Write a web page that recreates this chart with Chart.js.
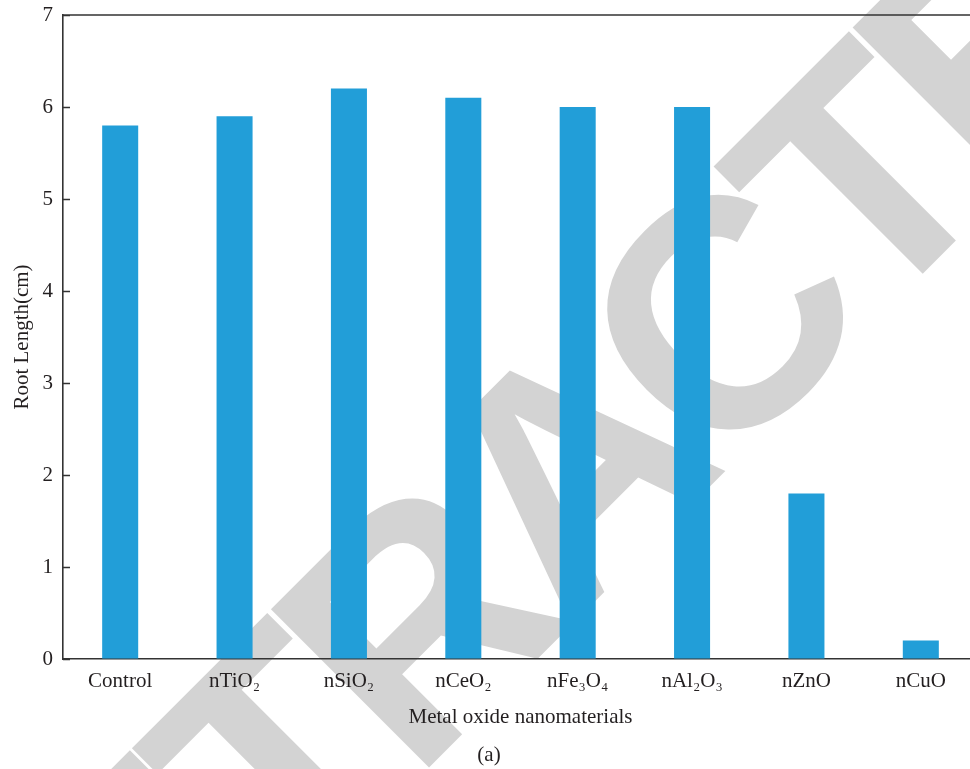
<!DOCTYPE html>
<html>
<head>
<meta charset="utf-8">
<script src="https://cdn.jsdelivr.net/npm/chart.js@4.4.1/dist/chart.umd.min.js"></script>
<style>
  html, body { margin: 0; padding: 0; overflow: hidden; background: #fff; }
  #wrap { width: 1000px; height: 769px; }
</style>
</head>
<body>
<div id="wrap"><canvas id="rootChart" width="1000" height="769"></canvas></div>
<script>
const materials = ["Control", "nTiO₂", "nSiO₂", "nCeO₂", "nFe₃O₄", "nAl₂O₃", "nZnO", "nCuO"];
const rootLength = [5.8, 5.9, 6.2, 6.1, 6.0, 6.0, 1.8, 0.2];
const yTicks = [0, 1, 2, 3, 4, 5, 6, 7];

const serif = "'Liberation Serif', 'Times New Roman', serif";
const inkColor = "#231f20";
const axisColor = "#333";

// large grey stamp, painted first so bars and axes sit on top of it
const stampPlugin = {
  id: "stamp",
  beforeDraw(chart) {
    const ctx = chart.ctx;
    ctx.save();
    ctx.fillStyle = "#fff";
    ctx.fillRect(0, 0, chart.width, chart.height);
    ctx.rotate(-Math.PI / 4);
    ctx.fillStyle = "#d3d3d3";
    ctx.font = "bold 325px 'Liberation Sans', Arial, sans-serif";
    ctx.textBaseline = "alphabetic";
    let x = -851;
    for (const ch of "RETRACTED") {
      ctx.fillText(ch, x, 846);
      x += ctx.measureText(ch).width - 20;
    }
    ctx.restore();
  }
};

// top frame line and short inward ticks on the value axis
const framePlugin = {
  id: "frame",
  afterDraw(chart) {
    const { ctx, chartArea, scales } = chart;
    ctx.save();
    ctx.strokeStyle = axisColor;
    ctx.lineWidth = 1.5;
    ctx.beginPath();
    ctx.moveTo(chartArea.left, chartArea.top);
    ctx.lineTo(chartArea.right, chartArea.top);
    yTicks.forEach(v => {
      const y = Math.round(scales.y.getPixelForValue(v)) + 0.5;
      ctx.moveTo(chartArea.left, y);
      ctx.lineTo(chartArea.left + 7, y);
    });
    ctx.stroke();
    ctx.restore();
  }
};

const textFont = { family: serif, size: 21, weight: "normal", lineHeight: 1.2 };

new Chart(document.getElementById("rootChart"), {
  type: "bar",
  data: {
    labels: materials,
    datasets: [{
      data: rootLength,
      backgroundColor: "#229ed8",
      barPercentage: 0.315,
      categoryPercentage: 1
    }]
  },
  options: {
    responsive: false,
    animation: false,
    layout: { padding: { top: 15, right: 22, left: 0, bottom: 0 } },
    plugins: {
      legend: { display: false },
      tooltip: { enabled: false },
      title: {
        display: true,
        position: "bottom",
        text: "(a)",
        color: inkColor,
        font: textFont,
        padding: { top: 0, bottom: 1.4 }
      }
    },
    scales: {
      x: {
        grid: { drawOnChartArea: false, drawTicks: false },
        border: { color: axisColor, width: 1.6 },
        ticks: { color: inkColor, font: textFont, padding: 10, maxRotation: 0, autoSkip: false },
        title: {
          display: true,
          text: "Metal oxide nanomaterials",
          color: inkColor,
          font: textFont,
          padding: { top: 10, bottom: 12.8 }
        },
        afterFit(scale) { scale.height = 83.4; }
      },
      y: {
        min: 0,
        max: 7,
        // outward ticks are hidden; they only keep the labels off the axis line
        grid: { drawOnChartArea: false, drawTicks: true, tickLength: 10, color: "transparent" },
        border: { color: axisColor, width: 1.6 },
        ticks: { stepSize: 1, color: inkColor, font: textFont, padding: 0 },
        title: {
          display: true,
          text: "Root Length(cm)",
          color: inkColor,
          font: textFont,
          padding: { top: 9.4, bottom: 0 }
        },
        afterFit(scale) { scale.width = 63; }
      }
    }
  },
  plugins: [stampPlugin, framePlugin]
});
</script>
</body>
</html>
